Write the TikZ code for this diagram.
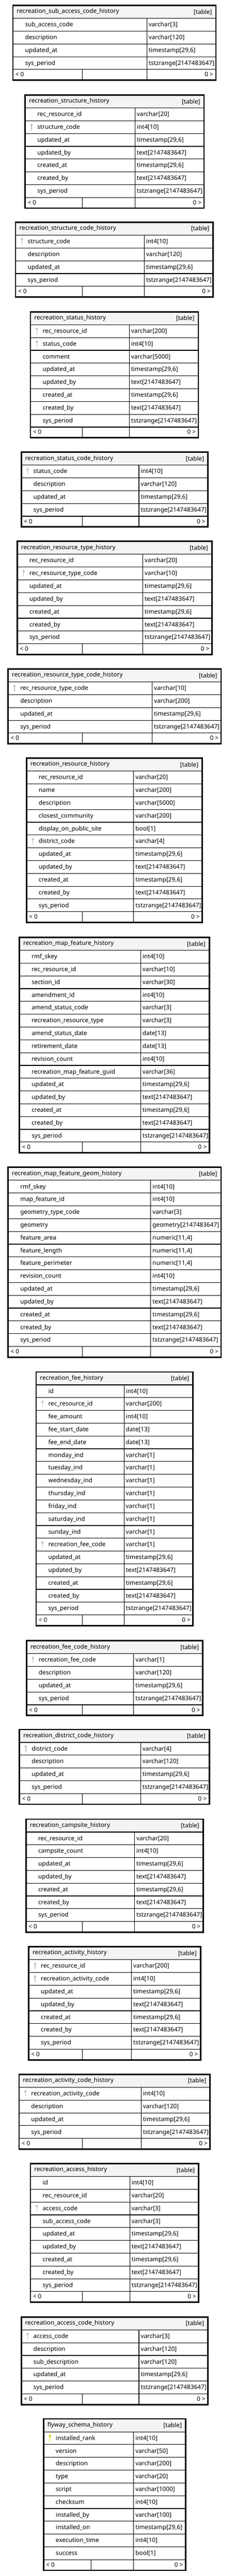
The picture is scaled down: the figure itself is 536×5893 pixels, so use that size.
\documentclass[tikz,border=0pt]{standalone}
\usepackage{fontspec}
\setmainfont{Noto Sans}
\usepackage{tikz}
\usetikzlibrary{positioning}
\definecolor{HeadGrey}{HTML}{F4F4F4}
\definecolor{KeyGrey}{HTML}{C4C4C4}
\definecolor{KeyGold}{HTML}{D6D60A}
\tikzset{
  headfill/.style={fill=HeadGrey},
  tableframe/.style={draw=black, line width=2.4pt},
  gridline/.style={draw=black, line width=1pt},
  titletext/.style={anchor=base west, inner sep=0pt, font=\fontsize{10.4}{12}\selectfont\bfseries},
  tagtext/.style={anchor=base east, inner sep=0pt, font=\fontsize{10.4}{12}\selectfont},
  fieldtext/.style={anchor=base west, inner sep=0pt, font=\fontsize{10.4}{12}\selectfont},
  foottext/.style={inner sep=0pt, font=\fontsize{10.4}{12}\selectfont},
  keyn/.style={draw=none},
  keyf/.style={draw=KeyGrey, fill=KeyGrey},
  keyp/.style={draw=KeyGold, fill=KeyGold}
}
\newcommand{\tstamp}{timestamp[29,6]}
\newcommand{\ttext}{text[2147483647]}
\newcommand{\trange}{tstzrange[2147483647]}
\newcommand{\tnum}{numeric[11,4]}
% [footer divider]{name}{left}{right}{top}{column}{rows}{title}{fields}
\newcommand{\dbtable}[9][188]{%
  \pgfmathsetmacro\hbot{#5+31}
  \pgfmathsetmacro\lbot{#5+31+#7*29.25}
  \pgfmathsetmacro\tbot{#5+31+#7*29.25+26}
  \fill[headfill] (#3,#5) rectangle (#4,\hbot);
  \node[titletext] (#2) at (#3+10,#5+19.5) {#8};
  \node[tagtext] (#2tag) at (#4-10,#5+21) {[table]};
  \foreach [count=\i] \fkey/\fname/\ftype in {#9} {
    \pgfmathsetmacro\rowy{\hbot+(\i-1)*29.25}
    \draw[gridline] (#3,\rowy) -- (#4,\rowy);
    \draw[key\fkey] (#3+16,\rowy+9.5) circle (1.8pt);
    \draw[key\fkey, line width=1.2pt] (#3+16,\rowy+10) -- (#3+16,\rowy+22);
    \node[fieldtext] (#2n\i) at (#3+29,\rowy+19) {\fname};
    \node[fieldtext] (#2t\i) at (#6+4,\rowy+19) {\ftype};
  }
  \draw[gridline] (#3,\lbot) -- (#4,\lbot);
  \draw[gridline] (#6,\hbot) -- (#6,\tbot);
  \draw[gridline] (#1,\lbot) -- (#1,\tbot);
  \node[foottext, anchor=base west] (#2lo) at (#3+7,\lbot+16.5) {< 0};
  \node[foottext, anchor=base east] (#2hi) at (#4-7,\lbot+16.5) {0 >};
  \draw[tableframe] (#3+1.5,#5+1.5) rectangle (#4-1.5,\tbot-1.5);
}
\catcode`\_=12
\begin{document}
\begin{tikzpicture}[x=0.75pt, y=-0.75pt]
  \fill[white] (0,0) rectangle (536,5893);
  \useasboundingbox (0,0) rectangle (536,5893);

  \dbtable{subaccess}{28}{494}{11}{335}{4}{recreation_sub_access_code_history}{
    n/sub_access_code/varchar[3], n/description/varchar[120], n/updated_at/\tstamp, n/sys_period/\trange}

  \dbtable{structure}{56}{467}{216}{308}{7}{recreation_structure_history}{
    n/rec_resource_id/varchar[20], f/structure_code/int4[10], n/updated_at/\tstamp, n/updated_by/\ttext,
    n/created_at/\tstamp, n/created_by/\ttext, n/sys_period/\trange}

  \dbtable{structurecode}{34}{488}{507}{329}{4}{recreation_structure_code_history}{
    f/structure_code/int4[10], n/description/varchar[120], n/updated_at/\tstamp, n/sys_period/\trange}

  \dbtable{status}{68}{454}{712}{295}{8}{recreation_status_history}{
    f/rec_resource_id/varchar[200], f/status_code/int4[10], n/comment/varchar[5000], n/updated_at/\tstamp,
    n/updated_by/\ttext, n/created_at/\tstamp, n/created_by/\ttext, n/sys_period/\trange}

  \dbtable{statuscode}{47}{476}{1033}{317}{4}{recreation_status_code_history}{
    f/status_code/int4[10], n/description/varchar[120], n/updated_at/\tstamp, n/sys_period/\trange}

  \dbtable{restype}{38}{485}{1237}{326}{7}{recreation_resource_type_history}{
    n/rec_resource_id/varchar[20], f/rec_resource_type_code/varchar[10], n/updated_at/\tstamp,
    n/updated_by/\ttext, n/created_at/\tstamp, n/created_by/\ttext, n/sys_period/\trange}

  \dbtable{restypecode}{17}{506}{1529}{347}{4}{recreation_resource_type_code_history}{
    f/rec_resource_type_code/varchar[10], n/description/varchar[200], n/updated_at/\tstamp, n/sys_period/\trange}

  \dbtable{resource}{59}{463}{1733}{305}{11}{recreation_resource_history}{
    n/rec_resource_id/varchar[20], n/name/varchar[200], n/description/varchar[5000],
    n/closest_community/varchar[200], n/display_on_public_site/bool[1], f/district_code/varchar[4],
    n/updated_at/\tstamp, n/updated_by/\ttext, n/created_at/\tstamp, n/created_by/\ttext, n/sys_period/\trange}

  \dbtable{mapfeature}{43}{479}{2143}{321}{15}{recreation_map_feature_history}{
    n/rmf_skey/int4[10], n/rec_resource_id/varchar[10], n/section_id/varchar[30], n/amendment_id/int4[10],
    n/amend_status_code/varchar[3], n/recreation_resource_type/varchar[3], n/amend_status_date/date[13],
    n/retirement_date/date[13], n/revision_count/int4[10], n/recreation_map_feature_guid/varchar[36],
    n/updated_at/\tstamp, n/updated_by/\ttext, n/created_at/\tstamp, n/created_by/\ttext, n/sys_period/\trange}

  \dbtable{mapgeom}{17}{506}{2669}{344}{13}{recreation_map_feature_geom_history}{
    n/rmf_skey/int4[10], n/map_feature_id/int4[10], n/geometry_type_code/varchar[3],
    n/geometry/geometry[2147483647], n/feature_area/\tnum, n/feature_length/\tnum,
    n/feature_perimeter/\tnum, n/revision_count/int4[10], n/updated_at/\tstamp, n/updated_by/\ttext,
    n/created_at/\tstamp, n/created_by/\ttext, n/sys_period/\trange}

  \dbtable{fee}{81}{442}{3137}{283}{18}{recreation_fee_history}{
    n/id/int4[10], f/rec_resource_id/varchar[200], n/fee_amount/int4[10], n/fee_start_date/date[13],
    n/fee_end_date/date[13], n/monday_ind/varchar[1], n/tuesday_ind/varchar[1], n/wednesday_ind/varchar[1],
    n/thursday_ind/varchar[1], n/friday_ind/varchar[1], n/saturday_ind/varchar[1], n/sunday_ind/varchar[1],
    f/recreation_fee_code/varchar[1], n/updated_at/\tstamp, n/updated_by/\ttext, n/created_at/\tstamp,
    n/created_by/\ttext, n/sys_period/\trange}

  \dbtable{feecode}{59}{464}{3752}{305}{4}{recreation_fee_code_history}{
    f/recreation_fee_code/varchar[1], n/description/varchar[120], n/updated_at/\tstamp, n/sys_period/\trange}

  \dbtable{district}{43}{479}{3955}{321}{4}{recreation_district_code_history}{
    f/district_code/varchar[4], n/description/varchar[120], n/updated_at/\tstamp, n/sys_period/\trange}

  \dbtable{campsite}{58}{465}{4160}{307}{7}{recreation_campsite_history}{
    n/rec_resource_id/varchar[20], n/campsite_count/int4[10], n/updated_at/\tstamp, n/updated_by/\ttext,
    n/created_at/\tstamp, n/created_by/\ttext, n/sys_period/\trange}

  \dbtable{activity}{64}{459}{4452}{300}{7}{recreation_activity_history}{
    f/rec_resource_id/varchar[200], f/recreation_activity_code/int4[10], n/updated_at/\tstamp,
    n/updated_by/\ttext, n/created_at/\tstamp, n/created_by/\ttext, n/sys_period/\trange}

  \dbtable{activitycode}{42}{481}{4744}{322}{4}{recreation_activity_code_history}{
    f/recreation_activity_code/int4[10], n/description/varchar[120], n/updated_at/\tstamp, n/sys_period/\trange}

  \dbtable{access}{68}{455}{4948}{296}{9}{recreation_access_history}{
    n/id/int4[10], n/rec_resource_id/varchar[20], f/access_code/varchar[3], n/sub_access_code/varchar[3],
    n/updated_at/\tstamp, n/updated_by/\ttext, n/created_at/\tstamp, n/created_by/\ttext, n/sys_period/\trange}

  \dbtable{accesscode}{47}{476}{5299}{317}{5}{recreation_access_code_history}{
    f/access_code/varchar[3], n/description/varchar[120], n/sub_description/varchar[120],
    n/updated_at/\tstamp, n/sys_period/\trange}

  \dbtable[208]{flyway}{98}{425}{5532}{305}{10}{flyway_schema_history}{
    p/installed_rank/int4[10], n/version/varchar[50], n/description/varchar[200], n/type/varchar[20],
    n/script/varchar[1000], n/checksum/int4[10], n/installed_by/varchar[100], n/installed_on/\tstamp,
    n/execution_time/int4[10], n/success/bool[1]}
\end{tikzpicture}
\end{document}
